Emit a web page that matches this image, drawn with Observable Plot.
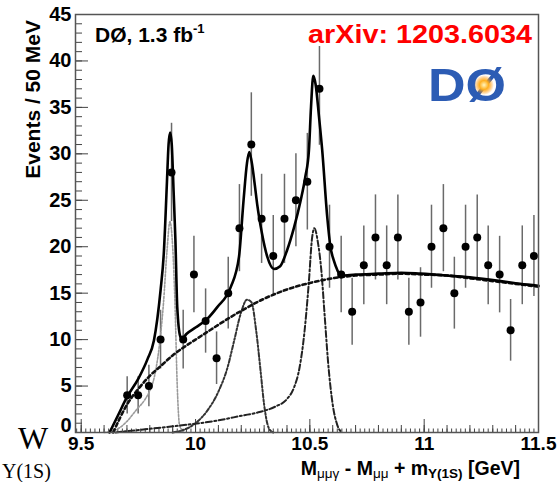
<!DOCTYPE html>
<html>
<head>
<meta charset="utf-8">
<script src="https://cdn.jsdelivr.net/npm/d3@7"></script>
<script src="https://cdn.jsdelivr.net/npm/@observablehq/plot@0.6"></script>
<style>
  html, body { margin: 0; padding: 0; background: #fff; }
  #chart { width: 560px; height: 482px; overflow: hidden; }
</style>
</head>
<body>
<div id="chart"></div>
<script>
// ---- data points (bin centres, events per 50 MeV, error bars) ----
const binX = [9.701, 9.749, 9.796, 9.847, 9.895, 9.946, 9.993, 10.044, 10.092, 10.143, 10.192, 10.244, 10.289, 10.340, 10.389, 10.439, 10.489, 10.542, 10.586, 10.637, 10.685, 10.736, 10.787, 10.836, 10.885, 10.933, 10.984, 11.032, 11.084, 11.132, 11.181, 11.232, 11.280, 11.330, 11.378, 11.429, 11.480];
const counts = [4, 4, 5, 10, 28, 10, 17, 12, 8, 15, 22, 31, 23, 19, 23, 25, 27, 37, 20, 17, 13, 18, 21, 18, 21, 13, 14, 20, 22, 15, 20, 21, 18, 17, 11, 18, 19];
const errs = [2.0, 2.0, 2.24, 3.16, 5.29, 3.16, 4.12, 3.46, 2.83, 3.87, 4.69, 5.57, 4.80, 4.36, 4.80, 5.0, 5.20, 6.08, 4.47, 4.12, 3.61, 4.24, 4.58, 4.24, 4.58, 3.61, 3.74, 4.47, 4.69, 3.87, 4.47, 4.58, 4.24, 4.12, 3.32, 4.24, 4.36];

// ---- total fit (solid) ----
const totX = [9.624, 9.66, 9.70, 9.75, 9.79, 9.818, 9.847, 9.861, 9.875, 9.882, 9.889, 9.896, 9.904, 9.912, 9.92, 9.934, 9.942, 9.96, 10.0, 10.05, 10.095, 10.153, 10.19, 10.21, 10.225, 10.235, 10.245, 10.26, 10.27, 10.29, 10.314, 10.343, 10.37, 10.40, 10.43, 10.46, 10.48, 10.496, 10.505, 10.515, 10.525, 10.54, 10.554, 10.576, 10.59, 10.605, 10.62, 10.634, 10.70, 10.80, 10.90, 10.984, 11.10, 11.20, 11.334, 11.42, 11.5];
const totY = [0, 1.8, 3.8, 5.8, 7.9, 9.9, 15.3, 19.2, 27, 31, 32.3, 31, 26, 20.7, 13.5, 10.3, 10.1, 10.6, 11.3, 12.2, 13.5, 15.6, 18.9, 25, 29, 30.2, 29.2, 26.5, 24.5, 21.5, 18.9, 17.6, 17.9, 19.6, 22, 25.0, 27.5, 30.4, 35, 38.4, 37.5, 34, 30.4, 23.2, 20, 18.5, 17.5, 16.9, 17.0, 17.1, 17.2, 17.1, 16.9, 16.7, 16.3, 16.0, 15.8];

// ---- background (dashed) ----
const bgX = [9.64, 9.67, 9.70, 9.75, 9.80, 9.85, 9.90, 9.95, 10.0, 10.05, 10.1, 10.2, 10.3, 10.4, 10.5, 10.6, 10.7, 10.8, 10.9, 11.0, 11.1, 11.2, 11.3, 11.4, 11.5];
const bgY = [0, 1.6, 3.0, 4.7, 6.1, 7.2, 8.3, 9.2, 10.0, 10.8, 11.6, 13.1, 14.4, 15.4, 16.1, 16.6, 16.9, 17.0, 17.1, 17.0, 16.9, 16.6, 16.3, 16.0, 15.7];

// ---- signal peaks ----
const p1X = [9.60, 9.66, 9.70, 9.74, 9.78, 9.80, 9.82, 9.84, 9.86, 9.875, 9.888, 9.90, 9.91, 9.92, 9.93, 9.95];
const p1Y = [0, 0.4, 1.2, 2.4, 3.6, 4.5, 6.0, 9.0, 14.0, 19.5, 22.7, 20.0, 14.0, 5.0, 0.8, 0];
const p2X = [9.90, 9.95, 10.0, 10.05, 10.10, 10.14, 10.17, 10.20, 10.225, 10.245, 10.265, 10.285, 10.30, 10.32, 10.34];
const p2Y = [0, 0.3, 1.0, 2.3, 4.4, 7.0, 10.0, 13.0, 14.3, 14.0, 11.0, 6.5, 3.0, 0.5, 0];
const p3X = [9.65, 9.80, 9.95, 10.1, 10.2, 10.28, 10.35, 10.40, 10.43, 10.455, 10.475, 10.495, 10.51, 10.52, 10.535, 10.55, 10.565, 10.58, 10.60, 10.62, 10.64];
const p3Y = [0, 0.4, 0.8, 1.3, 1.8, 2.2, 2.8, 3.6, 4.8, 7.0, 10.5, 16.0, 21.0, 22.0, 20.5, 17.5, 12.5, 7.5, 3.0, 0.8, 0];

// ---- axis ticks / labels ----
const xMajor = [9.5, 10, 10.5, 11, 11.5];
const xLabels = ["9.5", "10", "10.5", "11", "11.5"];
const yMajor = [0, 5, 10, 15, 20, 25, 30, 35, 40, 45];
const yLabels = ["0", "5", "10", "15", "20", "25", "30", "35", "40", "45"];
const xMinor = d3.range(9.5, 11.5001, 0.1);
const xTiny = d3.range(9.48, 11.5001, 0.02);
const yMinor = d3.range(0, 45.001, 1);

const pts = binX.map((x, i) => ({x, y: counts[i], e: errs[i]}));
const toRows = (xs, ys) => xs.map((x, i) => ({x, y: ys[i]}));

const FONT = "'Liberation Sans', Arial, Helvetica, sans-serif";
const W = 560, H = 482, ML = 75, MR = 22, MT = 14, MB = 50;
const PW = W - ML - MR, PH = H - MT - MB;

const yUpper = yMajor.slice(1), yUpperLabels = yLabels.slice(1);

const svg = Plot.plot({
  width: W, height: H,
  marginLeft: ML, marginRight: MR, marginTop: MT, marginBottom: MB,
  x: {domain: [9.475, 11.5]},
  y: {domain: [0, 45]},
  style: {fontFamily: FONT, fontSize: "20px", fontWeight: "bold", color: "#000", background: "#fff"},
  marks: [
    // inward ticks (ROOT style)
    Plot.tickX(xTiny, {x: d => d, insetTop: PH - 3.5, stroke: "#444", strokeWidth: 1}),
    Plot.tickX(xMinor, {x: d => d, insetTop: PH - 7, stroke: "#444", strokeWidth: 1}),
    Plot.tickX(xMajor, {x: d => d, insetTop: PH - 13, stroke: "#444", strokeWidth: 1}),
    Plot.tickY(yMinor, {y: d => d, insetRight: PW - 7, stroke: "#444", strokeWidth: 1}),
    Plot.tickY(yMajor, {y: d => d, insetRight: PW - 13, stroke: "#444", strokeWidth: 1}),
    // tick labels
    Plot.axisX(xMajor, {anchor: "bottom", tickSize: 0, tickPadding: 4, tickFormat: (d, i) => xLabels[i], label: null, fontSize: 19, fontWeight: "bold"}),
    Plot.axisY(yUpper, {anchor: "left", tickSize: 0, tickPadding: 4, tickFormat: (d, i) => yUpperLabels[i], label: null, fontSize: 20, fontWeight: "bold"}),
    Plot.axisY([yMajor[0]], {anchor: "left", tickSize: 0, tickPadding: 4, tickFormat: () => yLabels[0], label: null, fontSize: 20, fontWeight: "bold", dy: -7}),
    // error bars
    Plot.ruleX(pts, {x: "x", y1: d => d.y - d.e, y2: d => d.y + d.e, stroke: "#6a6a6a", strokeWidth: 1.5}),
    // curves
    Plot.line(toRows(p1X, p1Y), {x: "x", y: "y", curve: "monotone-x", stroke: "#9a9a9a", strokeWidth: 1.6, strokeDasharray: "2,1.6"}),
    Plot.line(toRows(p2X, p2Y), {x: "x", y: "y", curve: "monotone-x", stroke: "#333", strokeWidth: 2, strokeDasharray: "4,2,1.8,2,1.8,2"}),
    Plot.line(toRows(p3X, p3Y), {x: "x", y: "y", curve: "monotone-x", stroke: "#222", strokeWidth: 2, strokeDasharray: "6,2.5,2,2.5"}),
    Plot.line(toRows(bgX, bgY), {x: "x", y: "y", curve: "monotone-x", stroke: "#111", strokeWidth: 2.6, strokeDasharray: "3.5,3"}),
    Plot.line(toRows(totX, totY), {x: "x", y: "y", curve: "monotone-x", stroke: "#000", strokeWidth: 2.6}),
    // points
    Plot.dot(pts, {x: "x", y: "y", r: 4, fill: "#000", stroke: null}),
    Plot.frame({stroke: "#555", strokeWidth: 1.5})
  ]
});

const s = d3.select(svg);

// y title
s.append("text")
  .attr("transform", "translate(40,20) rotate(-90)")
  .attr("text-anchor", "end")
  .style("font-family", FONT).style("font-size", "21px").style("font-weight", "bold")
  .attr("fill", "#000")
  .text("Events / 50 MeV");

// x title
const xt = s.append("text")
  .attr("x", 520).attr("y", 475)
  .attr("text-anchor", "end")
  .style("font-family", FONT).style("font-size", "19.5px").style("font-weight", "bold")
  .attr("fill", "#000");
xt.append("tspan").text("M");
xt.append("tspan").attr("dy", 3).style("font-size", "13.5px").style("font-weight", "normal").text("μμγ");
xt.append("tspan").attr("dy", -3).text(" - M");
xt.append("tspan").attr("dy", 3).style("font-size", "13.5px").style("font-weight", "normal").text("μμ");
xt.append("tspan").attr("dy", -3).text(" + m");
xt.append("tspan").attr("dy", 3).style("font-size", "13.5px").text("Υ(1S)");
xt.append("tspan").attr("dy", -3).text(" [GeV]");

// DØ luminosity label
const lt = s.append("text")
  .attr("x", 95).attr("y", 42)
  .attr("text-anchor", "start")
  .style("font-family", FONT).style("font-size", "21px").style("font-weight", "bold")
  .attr("fill", "#000");
lt.append("tspan").text("DØ, 1.3 fb");
lt.append("tspan").attr("dy", -9).style("font-size", "13px").text("-1");

// arXiv label (white box behind)
s.append("rect").attr("x", 306).attr("y", 22).attr("width", 230).attr("height", 24).attr("fill", "#fff");
s.append("text")
  .attr("x", 308).attr("y", 43)
  .attr("text-anchor", "start")
  .attr("textLength", 224).attr("lengthAdjust", "spacingAndGlyphs")
  .style("font-family", FONT).style("font-size", "25px").style("font-weight", "bold")
  .attr("fill", "#ff0000")
  .text("arXiv: 1203.6034");

// DØ logo
const defs = s.append("defs");
const rg = defs.append("radialGradient").attr("id", "burst");
rg.append("stop").attr("offset", "0%").attr("stop-color", "#fff6c0");
rg.append("stop").attr("offset", "45%").attr("stop-color", "#ffb020");
rg.append("stop").attr("offset", "100%").attr("stop-color", "#ff8c00").attr("stop-opacity", 0);
s.append("text")
  .attr("x", 428).attr("y", 101)
  .attr("text-anchor", "start")
  .attr("textLength", 78).attr("lengthAdjust", "spacingAndGlyphs")
  .style("font-family", FONT).style("font-size", "46px").style("font-weight", "bold")
  .attr("fill", "#2c5cb4")
  .text("DØ");
s.append("circle").attr("cx", 484).attr("cy", 85).attr("r", 10).attr("fill", "url(#burst)");

// document text at the left edge
s.append("text").attr("x", 18).attr("y", 449)
  .attr("text-anchor", "start")
  .style("font-family", "'Liberation Serif', 'DejaVu Serif', serif").style("font-size", "32px").style("font-weight", "normal")
  .attr("fill", "#000").text("W");
s.append("text").attr("x", 2).attr("y", 478)
  .attr("text-anchor", "start")
  .style("font-family", "'Liberation Serif', 'DejaVu Serif', serif").style("font-size", "20px").style("font-weight", "normal")
  .attr("fill", "#000").text("Υ(1S)");

document.getElementById("chart").appendChild(svg);
</script>
</body>
</html>
